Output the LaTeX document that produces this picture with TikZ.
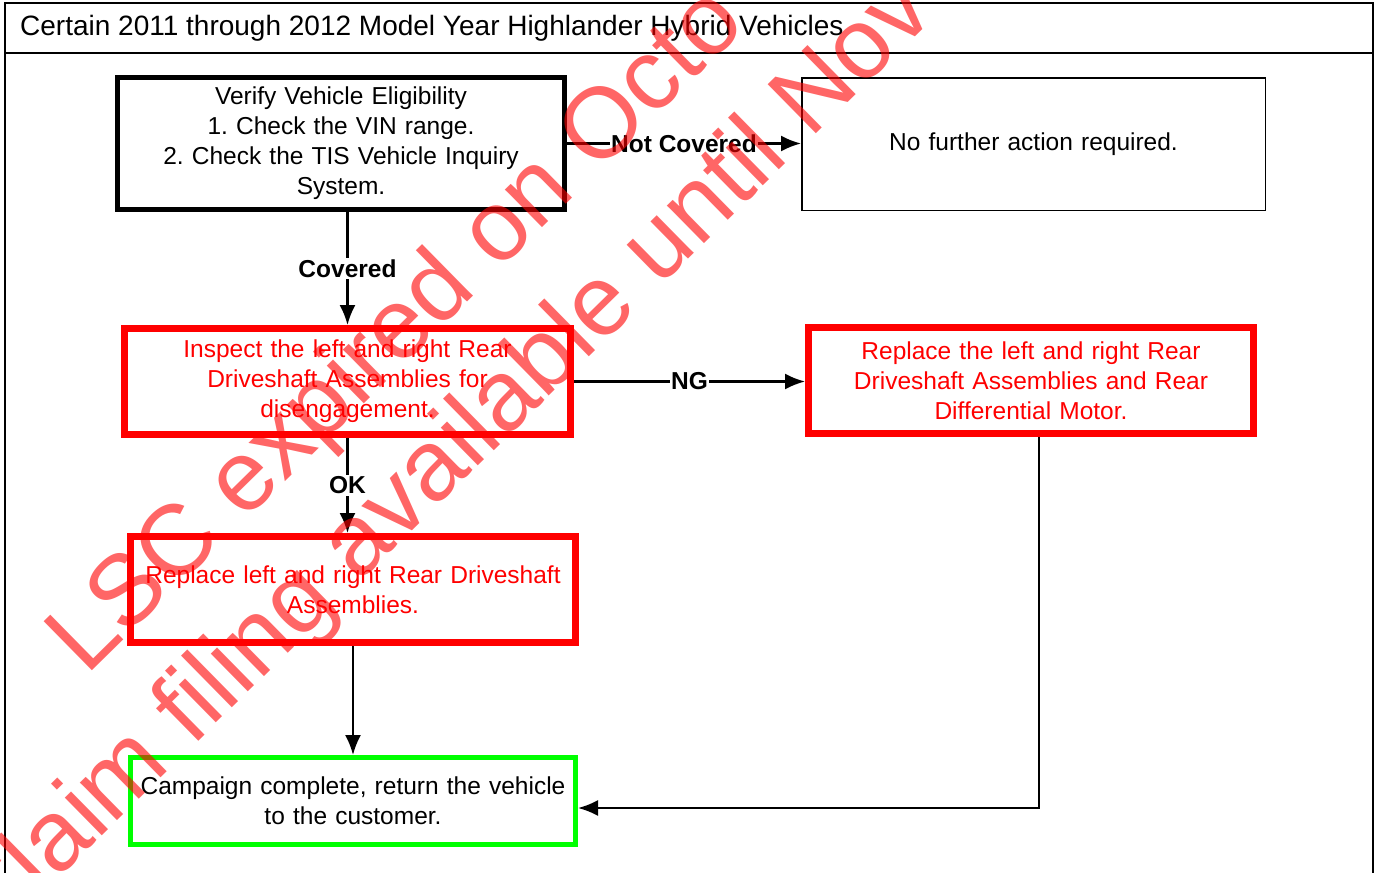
\documentclass[tikz,border=0pt]{standalone}
\usepackage{fontspec}
\setmainfont{Liberation Sans}
\usepackage{xcolor}
\usepackage{tikz}
\usetikzlibrary{arrows.meta,positioning,calc}
\definecolor{ngred}{RGB}{255,0,0}
\definecolor{donegreen}{RGB}{0,255,0}
\newcommand{\boxfont}{\fontsize{24.5}{30}\selectfont}

\begin{document}
\frenchspacing
\begin{tikzpicture}[x=1pt, y=-1pt,
    box/.style={draw, align=center, inner sep=0pt, outer sep=auto, text width=430pt, font=\boxfont},
    flow/.style={line width=2.2pt, -{Latex[length=20pt,width=16pt]}},
    lbl/.style={fill=white, inner sep=1.5pt, font=\boxfont\bfseries},
    wmark/.style={text=red, opacity=0.6, font=\fontsize{100}{100}\selectfont, inner sep=0pt}]
    \useasboundingbox (0,0) rectangle (1374,873);

    % Frame and title row
    \draw[line width=2pt] (5,880) -- (5,3) -- (1373,3) -- (1373,880);
    \draw[line width=2pt] (5,53) -- (1373,53);
    \node[anchor=west, inner sep=0pt, font=\fontsize{28}{30}\selectfont] (title) at (20,28)
        {Certain 2011 through 2012 Model Year Highlander Hybrid Vehicles};

    % Boxes
    \node[box, line width=5pt, minimum width=447pt, minimum height=132pt] (verify) at (341,143.5)
        {Verify Vehicle Eligibility\\1. Check the VIN range.\\2. Check the TIS Vehicle Inquiry\\System.};
    \node[box, line width=1.5pt, minimum width=463.5pt, minimum height=132.5pt] (nofurther) at (1033.5,144)
        {No further action required.};
    \node[box, ngred, text=ngred, line width=7pt, minimum width=446pt, minimum height=106pt] (inspect) at (347.5,381.5)
        {Inspect the left and right Rear\\Driveshaft Assemblies for\\disengagement.};
    \node[box, ngred, text=ngred, line width=7pt, minimum width=445pt, minimum height=106pt] (replaceR) at (1031,380.5)
        {Replace the left and right Rear\\Driveshaft Assemblies and Rear\\Differential Motor.};
    \node[box, ngred, text=ngred, line width=7pt, minimum width=445pt, minimum height=106pt] (replaceL) at (353,589.5)
        {Replace left and right Rear Driveshaft\\Assemblies.};
    \node[box, donegreen, text=black, line width=5pt, minimum width=445pt, minimum height=87pt] (campaign) at (353,801)
        {Campaign complete, return the vehicle\\to the customer.};

    % Connectors
    \draw[flow] (inspect.north |- verify.south) -- node[lbl] {Covered} (inspect.north);
    \draw[flow] (verify.east) -- node[lbl] {Not Covered} (verify.east -| nofurther.west);
    \draw[flow] (inspect.south) -- node[lbl] {OK} (inspect.south |- replaceL.north);
    \draw[flow] (inspect.east) -- node[lbl] {NG} (inspect.east -| replaceR.west);
    \draw[flow] (replaceL.south) -- (campaign.north);
    \coordinate (bend) at (1039,808);
    \draw[flow] (replaceR.south -| bend) -- (bend) -- (bend -| campaign.east);

    % Watermark
    \begin{scope}
        \clip (0,0) rectangle (1374,873);
        \node[wmark, anchor=base west, rotate=44.5] (wmA) at (86,677) {LSC expired on Octo};
        \node[wmark, anchor=base west, rotate=44.5] (wmB) at (-10,946) {Claim filing available until Nov};
    \end{scope}
\end{tikzpicture}
\end{document}
